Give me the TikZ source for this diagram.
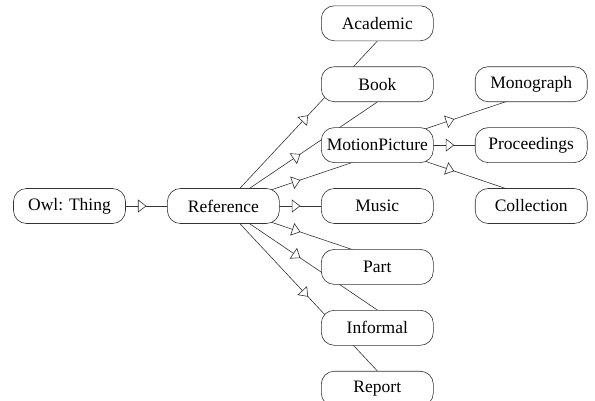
\documentclass[tikz,border=0pt]{standalone}
\usepackage{fontspec}
\setmainfont{Liberation Serif}
\usepackage{tikz}
\usetikzlibrary{arrows.meta, positioning, calc, backgrounds, decorations.markings}

\begin{document}
\begin{tikzpicture}[
    cls/.style={rectangle, draw=black!80, fill=white, line width=0.6pt, rounded corners=13pt, minimum width=112pt, minimum height=35pt, inner sep=0pt, font=\fontsize{17.5}{20}\selectfont},
    isa/.style={draw=black!80, line width=0.6pt, postaction={decorate}, decoration={markings, mark=at position #1 with {\arrow{Triangle[length=8.5pt, width=13pt, fill=white]}}}},
    isa/.default=0.5
]
    \clip (0,0) rectangle (595pt,-400pt);

    % Nodes
    \node[cls] (owl) at (69.5pt,-206pt) {Owl: Thing};
    \node[cls, right=41.3pt of owl] (ref) {Reference};
    \node[cls, right=41.3pt of ref] (music) {Music};
    \node[cls, above=25.3pt of music] (mp) {MotionPicture};
    \node[cls, above=25.3pt of mp] (book) {Book};
    \node[cls, above=25.3pt of book] (acad) {Academic};
    \node[cls, below=25.3pt of music] (part) {Part};
    \node[cls, below=25.3pt of part] (informal) {Informal};
    \node[cls, below=25.3pt of informal] (report) {Report};
    \node[cls, right=41.3pt of mp] (proc) {Proceedings};
    \node[cls, above=25.3pt of proc] (mono) {Monograph};
    \node[cls, below=25.3pt of proc] (coll) {Collection};

    % Paths
    \begin{pgfonlayer}{background}
    \draw[isa] (owl.center) -- (ref.center);
    \draw[isa=0.55] (ref.center) -- (acad.south);
    \draw[isa] (ref.center) -- (book.south);
    \draw[isa] (ref.center) -- ($(mp.center)!0.5!(mp.south)$);
    \draw[isa] (ref.center) -- (music.center);
    \draw[isa] (ref.center) -- ($(part.center)!0.5!(part.north)$);
    \draw[isa] (ref.center) -- (informal.north);
    \draw[isa=0.55] (ref.center) -- (report.north);
    \draw[isa] (mp.center) -- ($(mono.center)!0.5!(mono.south)$);
    \draw[isa] (mp.center) -- (proc.center);
    \draw[isa] (mp.center) -- ($(coll.center)!0.5!(coll.north)$);
    \end{pgfonlayer}
\end{tikzpicture}
\end{document}
